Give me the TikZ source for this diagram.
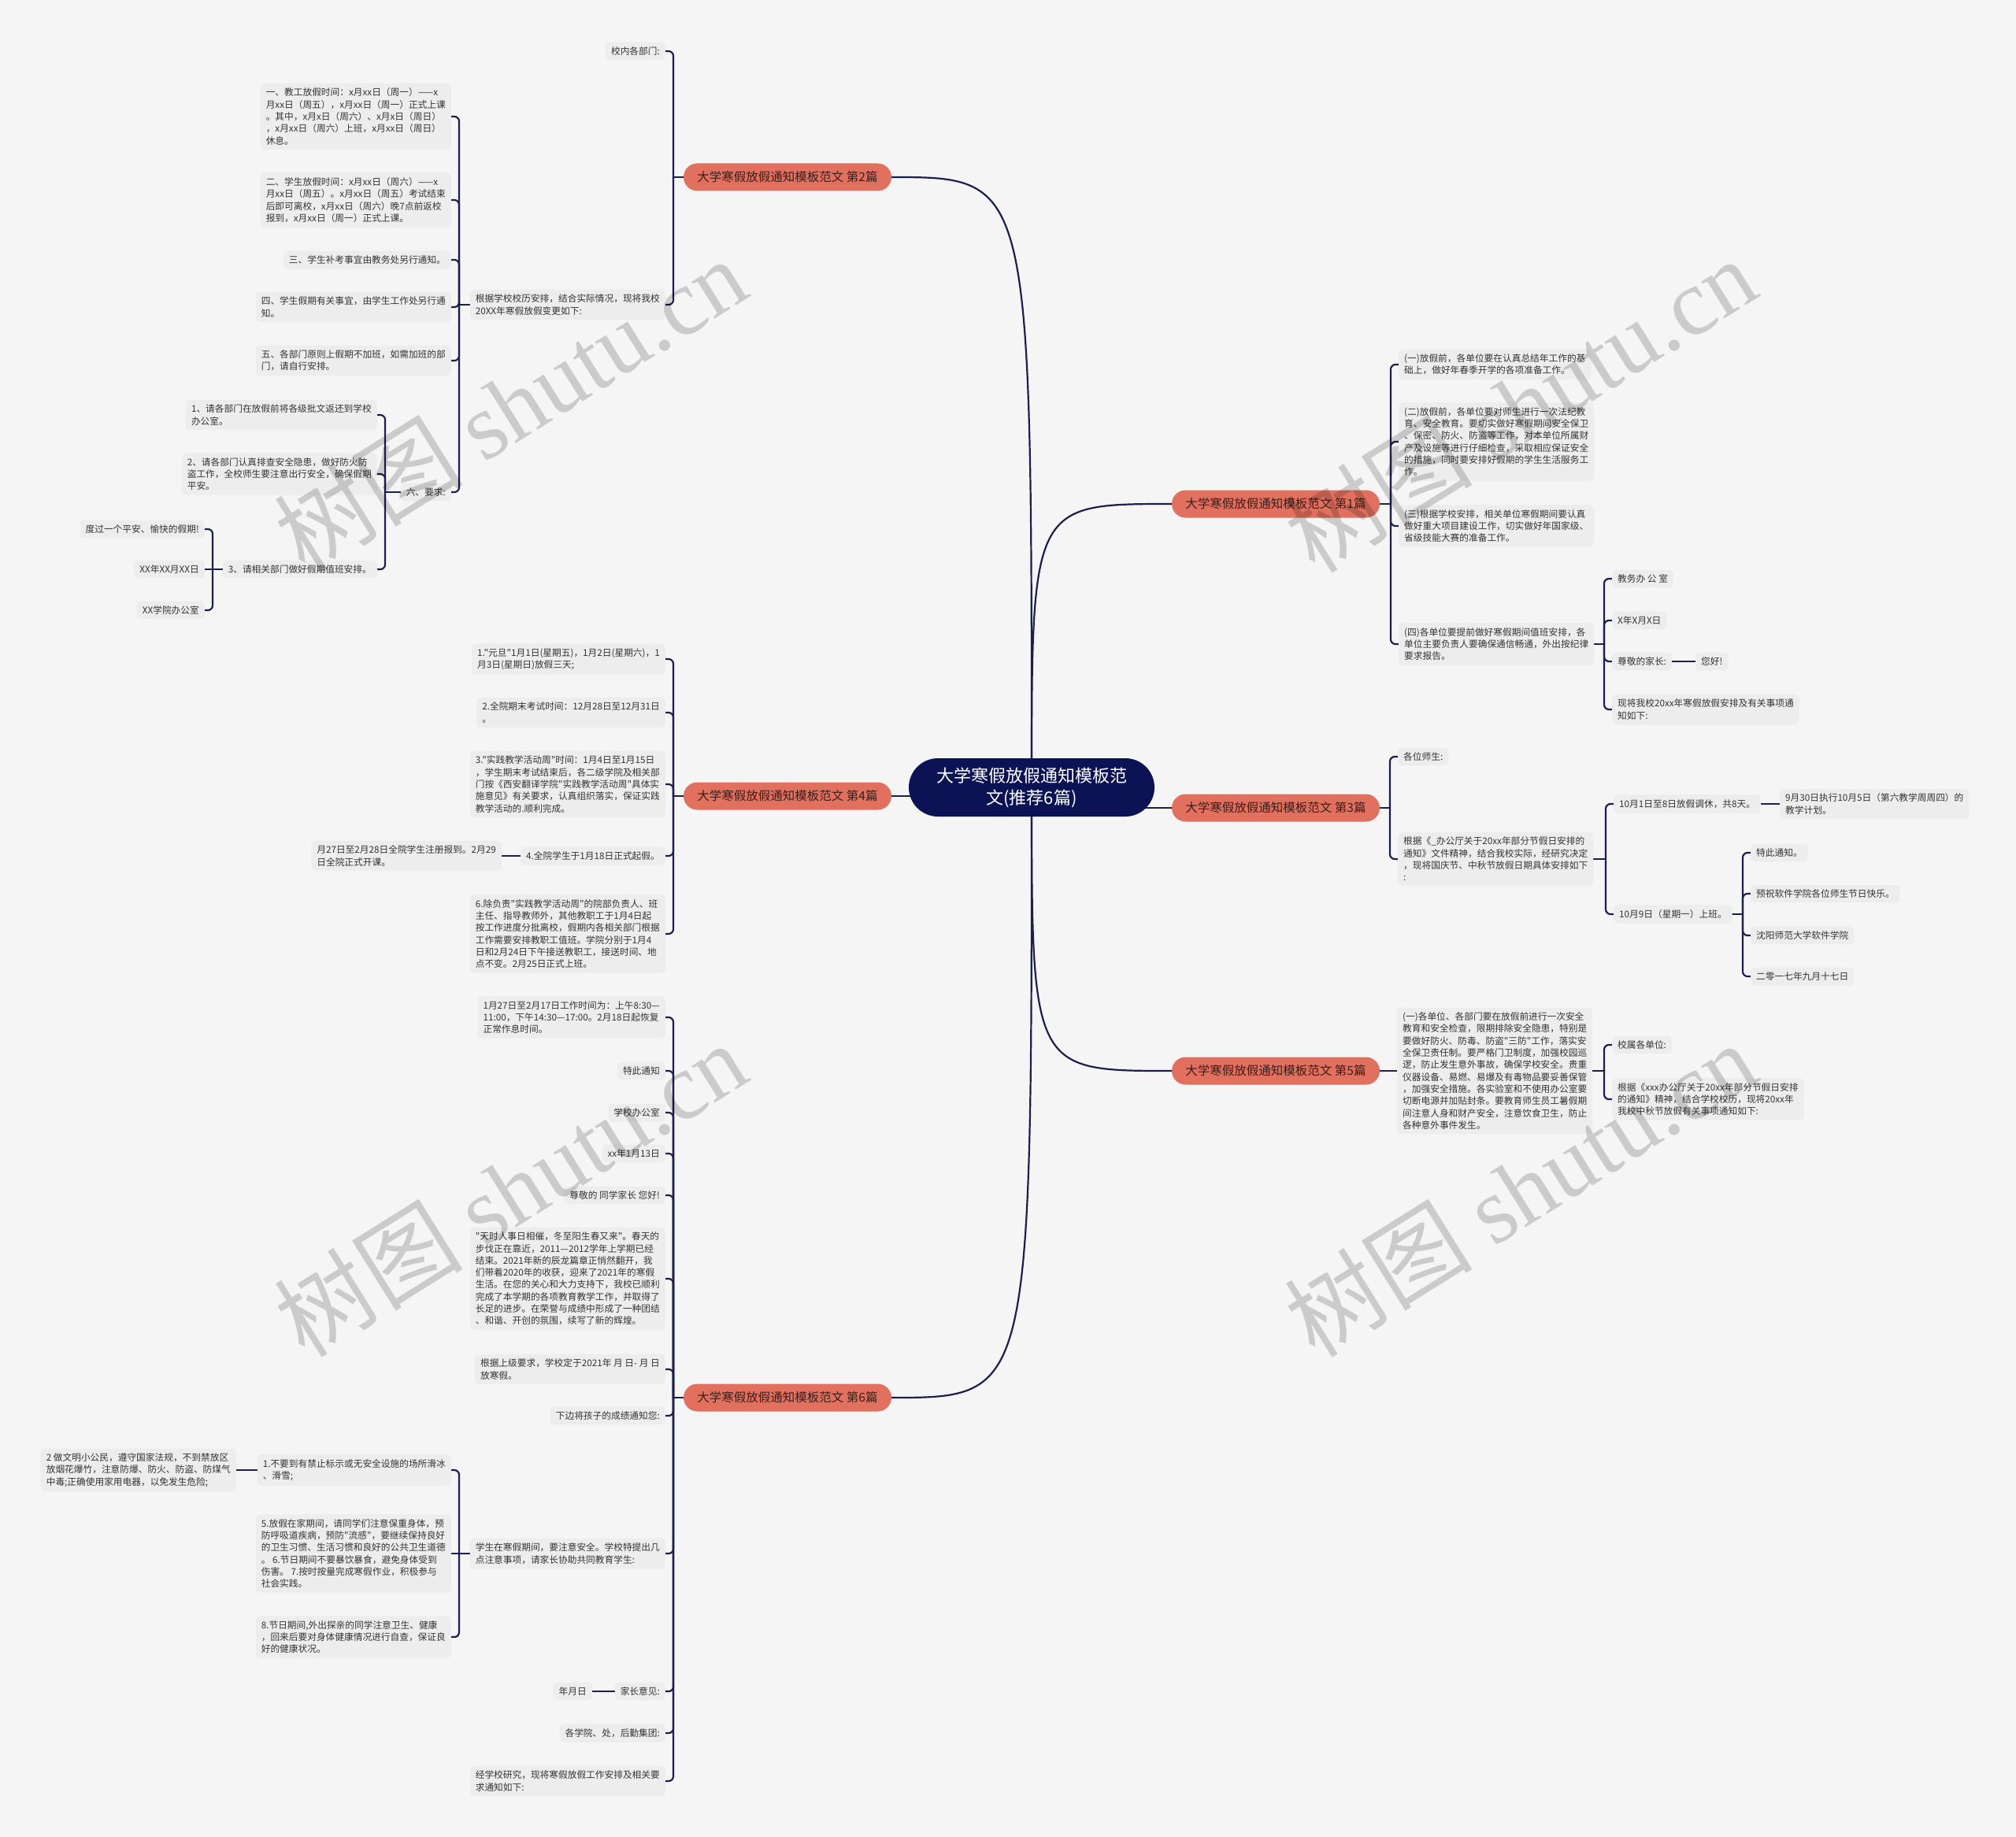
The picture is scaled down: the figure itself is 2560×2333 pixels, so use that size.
\documentclass[tikz,border=0pt]{standalone}
\usepackage{fontspec}
\setmainfont{Noto Sans CJK SC}[Ligatures=TeXOff]
\newfontfamily\wmlatin{Liberation Serif}
\usetikzlibrary{calc,shapes.misc}
\definecolor{bgc}{HTML}{F5F5F5}
\definecolor{boxc}{HTML}{EDEDED}
\definecolor{txtc}{HTML}{333333}
\definecolor{edgec}{HTML}{1B1F4F}
\definecolor{navyc}{HTML}{0B1354}
\definecolor{salmonc}{HTML}{E1705F}
\definecolor{brtxt}{HTML}{3A1E1A}
\pgfdeclarelayer{back}\pgfdeclarelayer{bg}\pgfsetlayers{back,bg,main}
\newcommand\fs{\fontsize{11.7}{15.3}\selectfont}
\newcommand\lcon[2]{%
 \draw[edge] let \p1=(#1.west), \p2=(#2.east) in (\p1) -- (\x2+10pt,\y1);
 \draw[edge,rounded corners=6pt] let \p1=(#1.west), \p2=(#2.east) in (\x2+10pt,\y1) -- (\x2+10pt,\y2) -- (\p2);}
\newcommand\rcon[2]{%
 \draw[edge] let \p1=(#1.east), \p2=(#2.west) in (\p1) -- (\x2-10pt,\y1);
 \draw[edge,rounded corners=6pt] let \p1=(#1.east), \p2=(#2.west) in (\x2-10pt,\y1) -- (\x2-10pt,\y2) -- (\p2);}
\begin{document}
\begin{tikzpicture}[x=1pt,y=-1pt,
 bx/.style={rectangle,rounded corners=5pt,fill=boxc,inner xsep=7pt,inner ysep=6pt,align=left,font=\fs,text=txtc},
 bl/.style={bx,anchor=east},
 bw/.style={bx,anchor=west},
 brn/.style={rounded rectangle,fill=salmonc,text=brtxt,font=\fontsize{15.5}{18}\selectfont,minimum width=264pt,minimum height=35pt,inner sep=0pt},
 ctr/.style={rounded rectangle,fill=navyc,text=white,font=\fontsize{22}{28}\selectfont,minimum width=312pt,minimum height=74pt,align=center,inner sep=0pt},
 edge/.style={draw=edgec,line width=2.2pt,line cap=round},
 wm/.style={font=\fontsize{120}{120}\selectfont,text=black,opacity=0.17,rotate=32}]
\useasboundingbox (0,0) rectangle (2560,2333);
\begin{pgfonlayer}{back}
\fill[bgc] (0,0) rectangle (2560,2333);
\end{pgfonlayer}

% center
\node[ctr] (C) at (1310,1000) {大学寒假放假通知模板范\\文(推荐6篇)};
\node[brn] (B2) at (1000,225) {大学寒假放假通知模板范文 第2篇};
\node[brn] (B4) at (1000,1011) {大学寒假放假通知模板范文 第4篇};
\node[brn] (B6) at (1000,1775) {大学寒假放假通知模板范文 第6篇};
\node[brn] (B1) at (1620,640) {大学寒假放假通知模板范文 第1篇};
\node[brn] (B3) at (1620,1026) {大学寒假放假通知模板范文 第3篇};
\node[brn] (B5) at (1620,1360) {大学寒假放假通知模板范文 第5篇};

% branch 2
\node[bl] (a1) at (845,65) {校内各部门:};
\node[bl] (a2) at (845,387) {根据学校校历安排，结合实际情况，现将我校\\20XX年寒假放假变更如下:};
\node[bl] (n1) at (573,148) {一、教工放假时间：x月xx日（周一）——x\\月xx日（周五），x月xx日（周一）正式上课\\。其中，x月x日（周六）、x月x日（周日）\\，x月xx日（周六）上班，x月xx日（周日）\\休息。};
\node[bl] (n2) at (573,254) {二、学生放假时间：x月xx日（周六）——x\\月xx日（周五）。x月xx日（周五）考试结束\\后即可离校，x月xx日（周六）晚7点前返校\\报到，x月xx日（周一）正式上课。};
\node[bl] (n3) at (573,330) {三、学生补考事宜由教务处另行通知。};
\node[bl] (n4) at (573,390) {四、学生假期有关事宜，由学生工作处另行通\\知。};
\node[bl] (n5) at (573,458) {五、各部门原则上假期不加班，如需加班的部\\门，请自行安排。};
\node[bl] (n6) at (573,625) {六、要求:};
\node[bl] (r1) at (479,527) {1、请各部门在放假前将各级批文返还到学校\\办公室。};
\node[bl] (r2) at (479,602) {2、请各部门认真排查安全隐患，做好防火防\\盗工作，全校师生要注意出行安全，确保假期\\平安。};
\node[bl] (r3) at (479,723) {3、请相关部门做好假期值班安排。};
\node[bl] (s1) at (260,672) {度过一个平安、愉快的假期!};
\node[bl] (s2) at (260,723) {XX年XX月XX日};
\node[bl] (s3) at (260,775) {XX学院办公室};

% branch 4
\node[bl] (c1) at (845,837) {1."元旦"1月1日(星期五)，1月2日(星期六)，1\\月3日(星期日)放假三天;};
\node[bl] (c2) at (845,905) {2.全院期末考试时间：12月28日至12月31日\\。};
\node[bl] (c3) at (845,996) {3."实践教学活动周"时间：1月4日至1月15日\\，学生期末考试结束后，各二级学院及相关部\\门按《西安翻译学院"实践教学活动周"具体实\\施意见》有关要求，认真组织落实，保证实践\\教学活动的.顺利完成。};
\node[bl] (c4) at (845,1087) {4.全院学生于1月18日正式起假。};
\node[bl] (c4x) at (637,1087) {月27日至2月28日全院学生注册报到。2月29\\日全院正式开课。};
\node[bl] (c6) at (845,1186) {6.除负责"实践教学活动周"的院部负责人、班\\主任、指导教师外，其他教职工于1月4日起\\按工作进度分批离校，假期内各相关部门根据\\工作需要安排教职工值班。学院分别于1月4\\日和2月24日下午接送教职工，接送时间、地\\点不变。2月25日正式上班。};

% branch 6
\node[bl] (d1) at (845,1292) {1月27日至2月17日工作时间为：上午8:30—\\11:00，下午14:30—17:00。2月18日起恢复\\正常作息时间。};
\node[bl] (d2) at (845,1360) {特此通知};
\node[bl] (d3) at (845,1413) {学校办公室};
\node[bl] (d4) at (845,1465) {xx年1月13日};
\node[bl] (d5) at (845,1518) {尊敬的 同学家长 您好!};
\node[bl] (d6) at (845,1624) {"天时人事日相催，冬至阳生春又来"。春天的\\步伐正在靠近，2011—2012学年上学期已经\\结束。2021年新的辰龙篇章正悄然翻开，我\\们带着2020年的收获，迎来了2021年的寒假\\生活。在您的关心和大力支持下，我校已顺利\\完成了本学期的各项教育教学工作，并取得了\\长足的进步。在荣誉与成绩中形成了一种团结\\、和谐、开创的氛围，续写了新的辉煌。};
\node[bl] (d7) at (845,1739) {根据上级要求，学校定于2021年 月 日- 月 日\\放寒假。};
\node[bl] (d8) at (845,1798) {下边将孩子的成绩通知您:};
\node[bl] (d9) at (845,1973) {学生在寒假期间，要注意安全。学校特提出几\\点注意事项，请家长协助共同教育学生:};
\node[bl] (e1) at (573,1867) {1.不要到有禁止标示或无安全设施的场所滑冰\\、滑雪;};
\node[bl] (e1x) at (300,1867) {2 做文明小公民，遵守国家法规，不到禁放区\\放烟花爆竹，注意防爆、防火、防盗、防煤气\\中毒;正确使用家用电器，以免发生危险;};
\node[bl] (e2) at (573,1973) {5.放假在家期间，请同学们注意保重身体，预\\防呼吸道疾病，预防"流感"，要继续保持良好\\的卫生习惯、生活习惯和良好的公共卫生道德\\。 6.节日期间不要暴饮暴食，避免身体受到\\伤害。 7.按时按量完成寒假作业，积极参与\\社会实践。};
\node[bl] (e3) at (573,2079) {8.节日期间,外出探亲的同学注意卫生、健康\\，回来后要对身体健康情况进行自查，保证良\\好的健康状况。};
\node[bl] (d10) at (845,2148) {家长意见:};
\node[bl] (d10x) at (752,2148) {年月日};
\node[bl] (d11) at (845,2201) {各学院、处，后勤集团:};
\node[bl] (d12) at (845,2262) {经学校研究，现将寒假放假工作安排及相关要\\求通知如下:};

% branch 1
\node[bw] (f1) at (1776,463) {(一)放假前，各单位要在认真总结年工作的基\\础上，做好年春季开学的各项准备工作。};
\node[bw] (f2) at (1776,561) {(二)放假前，各单位要对师生进行一次法纪教\\育、安全教育。要切实做好寒假期间安全保卫\\、保密、防火、防盗等工作，对本单位所属财\\产及设施等进行仔细检查，采取相应保证安全\\的措施，同时要安排好假期的学生生活服务工\\作。};
\node[bw] (f3) at (1776,668) {(三)根据学校安排，相关单位寒假期间要认真\\做好重大项目建设工作，切实做好年国家级、\\省级技能大赛的准备工作。};
\node[bw] (f4) at (1776,818) {(四)各单位要提前做好寒假期间值班安排，各\\单位主要负责人要确保通信畅通，外出按纪律\\要求报告。};
\node[bw] (g1) at (2047,735) {教务办 公 室};
\node[bw] (g2) at (2047,788) {X年X月X日};
\node[bw] (g3) at (2047,840) {尊敬的家长:};
\node[bw] (g3x) at (2153,840) {您好!};
\node[bw] (g4) at (2047,901) {现将我校20xx年寒假放假安排及有关事项通\\知如下:};

% branch 3
\node[bw] (h1) at (1775,961) {各位师生:};
\node[bw] (h2) at (1775,1091) {根据《\_办公厅关于20xx年部分节假日安排的\\通知》文件精神，结合我校实际，经研究决定\\，现将国庆节、中秋节放假日期具体安排如下\\:};
\node[bw] (i1) at (2049,1021) {10月1日至8日放假调休，共8天。};
\node[bw] (i1x) at (2260,1021) {9月30日执行10月5日（第六教学周周四）的\\教学计划。};
\node[bw] (i2) at (2049,1161) {10月9日（星期一）上班。};
\node[bw] (j1) at (2223,1083) {特此通知。};
\node[bw] (j2) at (2223,1135) {预祝软件学院各位师生节日快乐。};
\node[bw] (j3) at (2223,1188) {沈阳师范大学软件学院};
\node[bw] (j4) at (2223,1240) {二零一七年九月十七日};

% branch 5
\node[bw] (k1) at (1774,1360) {(一)各单位、各部门要在放假前进行一次安全\\教育和安全检查，限期排除安全隐患，特别是\\要做好防火、防毒、防盗"三防"工作，落实安\\全保卫责任制。要严格门卫制度，加强校园巡\\逻，防止发生意外事故，确保学校安全。贵重\\仪器设备、易燃、易爆及有毒物品要妥善保管\\，加强安全措施。各实验室和不使用办公室要\\切断电源并加贴封条。要教育师生员工暑假期\\间注意人身和财产安全，注意饮食卫生，防止\\各种意外事件发生。};
\node[bw] (l1) at (2047,1327) {校属各单位:};
\node[bw] (l2) at (2047,1396) {根据《xxx办公厅关于20xx年部分节假日安排\\的通知》精神，结合学校校历，现将20xx年\\我校中秋节放假有关事项通知如下:};

\begin{pgfonlayer}{bg}
\draw[edge] (C.center) .. controls (C.center |- B2.east) and (C.center |- B2.east) .. (B2.east);
\draw[edge] (C.center) .. controls (C.center |- B6.east) and (C.center |- B6.east) .. (B6.east);
\draw[edge] (C.center) .. controls (C.center |- B1.west) and (C.center |- B1.west) .. (B1.west);
\draw[edge] (C.center) .. controls (C.center |- B5.west) and (C.center |- B5.west) .. (B5.west);
\draw[edge] (C.center |- B3.west) -- (B3.west);
\draw[edge] (C.center |- B4.east) -- (B4.east);
% branch 2
\lcon{B2}{a1}\lcon{B2}{a2}
\lcon{a2}{n1}\lcon{a2}{n2}\lcon{a2}{n3}\lcon{a2}{n4}\lcon{a2}{n5}\lcon{a2}{n6}
\lcon{n6}{r1}\lcon{n6}{r2}\lcon{n6}{r3}
\lcon{r3}{s1}\draw[edge] (r3.west) -- (s2.east);\lcon{r3}{s3}
% branch 4
\lcon{B4}{c1}\lcon{B4}{c2}\lcon{B4}{c3}\lcon{B4}{c4}\lcon{B4}{c6}
\draw[edge] (c4.west) -- (c4x.east);
% branch 6
\lcon{B6}{d1}\lcon{B6}{d2}\lcon{B6}{d3}\lcon{B6}{d4}\lcon{B6}{d5}\lcon{B6}{d6}
\lcon{B6}{d7}\lcon{B6}{d8}\lcon{B6}{d9}\lcon{B6}{d10}\lcon{B6}{d11}\lcon{B6}{d12}
\lcon{d9}{e1}\draw[edge] (d9.west) -- (e2.east);\lcon{d9}{e3}
\draw[edge] (e1.west) -- (e1x.east);
\draw[edge] (d10.west) -- (d10x.east);
% branch 1
\rcon{B1}{f1}\rcon{B1}{f2}\rcon{B1}{f3}\rcon{B1}{f4}
\rcon{f4}{g1}\rcon{f4}{g2}\rcon{f4}{g3}\rcon{f4}{g4}
\draw[edge] (g3.east) -- (g3x.west);
% branch 3
\rcon{B3}{h1}\rcon{B3}{h2}
\rcon{h2}{i1}\rcon{h2}{i2}
\draw[edge] (i1.east) -- (i1x.west);
\rcon{i2}{j1}\rcon{i2}{j2}\rcon{i2}{j3}\rcon{i2}{j4}
% branch 5
\draw[edge] (B5.east) -- (k1.west);
\rcon{k1}{l1}\rcon{k1}{l2}
\end{pgfonlayer}

% watermarks
\node[wm] (wm1) at (648,514) {树图 {\wmlatin shutu.cn}};
\node[wm] (wm2) at (1930,514) {树图 {\wmlatin shutu.cn}};
\node[wm] (wm3) at (648,1510) {树图 {\wmlatin shutu.cn}};
\node[wm] (wm4) at (1930,1510) {树图 {\wmlatin shutu.cn}};
\end{tikzpicture}
\end{document}
